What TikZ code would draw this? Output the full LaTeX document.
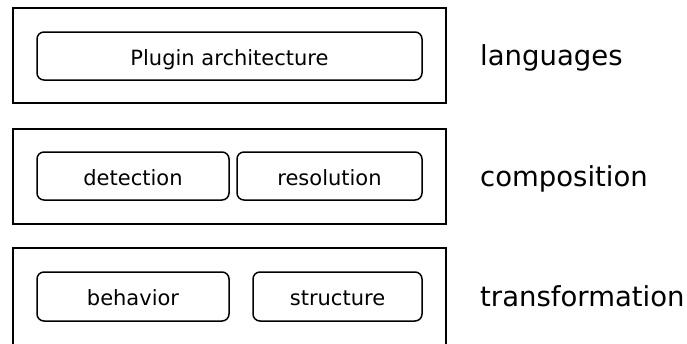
\documentclass[tikz,border=0pt]{standalone}
\usepackage{fontspec}
\setmainfont{DejaVu Sans}
\begin{document}
\begin{tikzpicture}[x=1pt,y=-1pt,
  layer/.style={draw=black,line width=2pt},
  part/.style={draw=black,line width=1.5pt,rounded corners=7pt,inner sep=0pt,
    text height=18pt,text depth=0pt,
    font=\fontsize{21}{24}\selectfont},
  tag/.style={anchor=base west,inner sep=0pt,font=\fontsize{27.5}{32}\selectfont}]
\clip (0,0) rectangle (687,343);
\fill[white] (0,0) rectangle (687,343);
% three layer frames (the lowest one runs past the bottom edge)
\draw[layer] (13,8) rectangle (445.5,102.5);
\draw[layer] (13,128.5) rectangle (445.5,223.5);
\draw[layer] (13,360) -- (13,248) -- (445.5,248) -- (445.5,360);
% components of each layer
\node[part,minimum width=385pt,minimum height=48pt] (plugin) at (229.5,56) {Plugin architecture};
\node[part,minimum width=192pt,minimum height=48pt] (detect) at (133,176) {detection};
\node[part,minimum width=185pt,minimum height=48pt] (resolve) at (329.5,176) {resolution};
\node[part,minimum width=192pt,minimum height=49pt] (behav) at (133,296.5) {behavior};
\node[part,minimum width=169pt,minimum height=49pt] (struct) at (337.5,296.5) {structure};
% layer names
\node[tag] (lang) at (480,65) {languages};
\node[tag] (comp) at (480,186) {composition};
\node[tag] (trans) at (480,306) {transformation};
\end{tikzpicture}
\end{document}
